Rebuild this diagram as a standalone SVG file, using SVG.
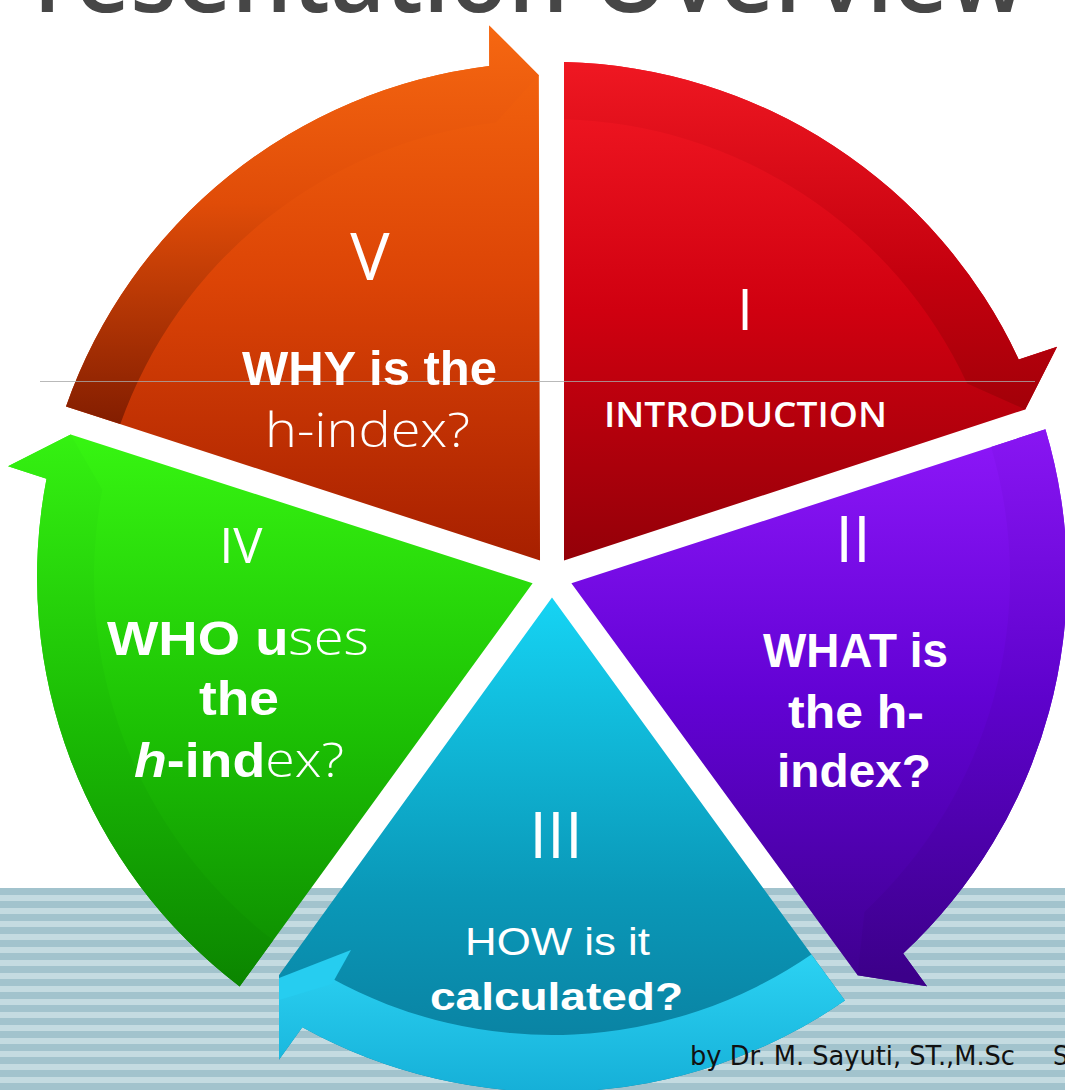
<svg xmlns="http://www.w3.org/2000/svg" width="1065" height="1090" viewBox="0 0 1065 1090">
<style>
.w{fill:#ffffff;font-family:"Liberation Sans",Arial,sans-serif}
.b{font-weight:bold}
.lt{font-family:"Open Sans","Liberation Sans",sans-serif;font-weight:300}
.num{font-family:"Open Sans","Liberation Sans",sans-serif;font-weight:400;text-anchor:middle}
.title{fill:#464646;font-family:"Open Sans","Liberation Sans",sans-serif;font-size:100px;font-weight:600}
.foot{fill:#111111;font-family:"DejaVu Sans Condensed","DejaVu Sans","Liberation Sans",sans-serif;font-size:27px}
</style>
<defs>
<pattern id="stripes" x="0" y="888" width="20" height="13" patternUnits="userSpaceOnUse">
<rect width="20" height="13" fill="#c4dbe1"/>
<rect width="20" height="7" fill="#a2c3cd"/>
</pattern>
<linearGradient id="gI" gradientUnits="userSpaceOnUse" x1="0" y1="60" x2="0" y2="560">
<stop offset="0" stop-color="#f51a24"/><stop offset="0.5" stop-color="#d00010"/><stop offset="1" stop-color="#940008"/>
</linearGradient>
<linearGradient id="gIb" gradientUnits="userSpaceOnUse" x1="0" y1="60" x2="0" y2="420">
<stop offset="0" stop-color="#f01822"/><stop offset="0.6" stop-color="#c4000e"/><stop offset="1" stop-color="#a00008"/>
</linearGradient>
<linearGradient id="gII" gradientUnits="userSpaceOnUse" x1="0" y1="420" x2="0" y2="975" gradientTransform="rotate(-72 552 577)">
<stop offset="0" stop-color="#8f18fa"/><stop offset="0.5" stop-color="#6202d4"/><stop offset="1" stop-color="#3f0090"/>
</linearGradient>
<linearGradient id="gIIb" gradientUnits="userSpaceOnUse" x1="0" y1="420" x2="0" y2="975" gradientTransform="rotate(-72 552 577)">
<stop offset="0" stop-color="#8a16f4"/><stop offset="0.5" stop-color="#5e02cc"/><stop offset="1" stop-color="#3c008a"/>
</linearGradient>
<linearGradient id="gIII" gradientUnits="userSpaceOnUse" x1="0" y1="597" x2="0" y2="1090" gradientTransform="rotate(-144 552 577)">
<stop offset="0" stop-color="#16d4f4"/><stop offset="0.6" stop-color="#0a98b8"/><stop offset="1" stop-color="#0a7c9c"/>
</linearGradient>
<linearGradient id="gIIIb" gradientUnits="userSpaceOnUse" x1="0" y1="940" x2="0" y2="1090" gradientTransform="rotate(-144 552 577)">
<stop offset="0" stop-color="#2ed6f6"/><stop offset="1" stop-color="#16b0d8"/>
</linearGradient>
<linearGradient id="gIV" gradientUnits="userSpaceOnUse" x1="0" y1="420" x2="0" y2="990" gradientTransform="rotate(-216 552 577)">
<stop offset="0" stop-color="#38f812"/><stop offset="0.55" stop-color="#1cc004"/><stop offset="1" stop-color="#0c8800"/>
</linearGradient>
<linearGradient id="gIVb" gradientUnits="userSpaceOnUse" x1="0" y1="420" x2="0" y2="990" gradientTransform="rotate(-216 552 577)">
<stop offset="0" stop-color="#36f412"/><stop offset="0.55" stop-color="#1aba04"/><stop offset="1" stop-color="#0b8400"/>
</linearGradient>
<linearGradient id="gV" gradientUnits="userSpaceOnUse" x1="0" y1="10" x2="0" y2="555" gradientTransform="rotate(-288 552 577)">
<stop offset="0" stop-color="#f86a10"/><stop offset="0.5" stop-color="#dc4406"/><stop offset="1" stop-color="#a82000"/>
</linearGradient>
<linearGradient id="gVb" gradientUnits="userSpaceOnUse" x1="0" y1="10" x2="0" y2="440" gradientTransform="rotate(-288 552 577)">
<stop offset="0" stop-color="#f86a12"/><stop offset="0.45" stop-color="#e04c08"/><stop offset="1" stop-color="#7c1a00"/>
</linearGradient>
<path id="wedge" d="M564 560.5 L564 62.1 A515 515 0 0 1 1018.7 359.4 L1057.1 346.8 L1025.2 409.4 Z"/>
<path id="band" d="M564 62.1 A515 515 0 0 1 1018.7 359.4 L1057.1 346.8 L1025.2 409.4 L967.1 383.4 A458 458 0 0 0 564 119.2 Z"/>
<clipPath id="clipIII"><path d="M0 0 H1065 V1090 H279 V948 H0 Z"/></clipPath>
</defs>

<rect width="1065" height="1090" fill="#ffffff"/>
<rect x="0" y="888" width="1065" height="202" fill="url(#stripes)"/>

<text class="title" x="34" y="12" textLength="992" lengthAdjust="spacingAndGlyphs">resentation Overview</text>

<g id="node-V">
<use href="#wedge" transform="rotate(288 552 577)" fill="url(#gV)"/>
<use href="#band" transform="rotate(288 552 577)" fill="url(#gVb)"/>
</g>
<g id="node-I">
<use href="#wedge" fill="url(#gI)"/>
<use href="#band" fill="url(#gIb)"/>
</g>
<g id="node-II">
<use href="#wedge" transform="rotate(72 552 577)" fill="url(#gII)"/>
<use href="#band" transform="rotate(72 552 577)" fill="url(#gIIb)"/>
</g>
<g id="node-IV">
<use href="#wedge" transform="rotate(216 552 577)" fill="url(#gIV)"/>
<use href="#band" transform="rotate(216 552 577)" fill="url(#gIVb)"/>
</g>
<g id="node-III" clip-path="url(#clipIII)">
<use href="#wedge" transform="rotate(144 552 577)" fill="url(#gIII)"/>
<use href="#band" transform="rotate(144 552 577)" fill="url(#gIIIb)"/>
<path d="M351 950 L279 978 L279 1000 L332 984 Z" fill="#26cdf0"/>
</g>

<line x1="40" y1="381.5" x2="1035" y2="381.5" stroke="#a8a8a8" stroke-width="1" opacity="0.8"/>

<g id="text-V">
<text class="w num" x="370" y="280" font-size="66">V</text>
<text class="w b" x="242" y="385" font-size="48" textLength="255" lengthAdjust="spacingAndGlyphs">WHY is the</text>
<text class="w lt" x="265" y="447" font-size="48" textLength="205" lengthAdjust="spacingAndGlyphs">h-index?</text>
</g>
<g id="text-I">
<text class="w num" x="745" y="330" font-size="56">I</text>
<text class="w" x="604" y="427" font-size="34" textLength="283" lengthAdjust="spacingAndGlyphs" style="font-family:'Open Sans','Liberation Sans',sans-serif;font-weight:600">INTRODUCTION</text>
</g>
<g id="text-II">
<text class="w num" x="853" y="562" font-size="64">II</text>
<text class="w b" x="763" y="667" font-size="48" textLength="185" lengthAdjust="spacingAndGlyphs">WHAT is</text>
<text class="w b" x="788" y="728" font-size="46" textLength="136" lengthAdjust="spacingAndGlyphs">the h-</text>
<text class="w b" x="777" y="787" font-size="46" textLength="154" lengthAdjust="spacingAndGlyphs">index?</text>
</g>
<g id="text-III">
<text class="w num" x="556" y="858" font-size="64">III</text>
<text class="w" x="465" y="955" font-size="38" textLength="185" lengthAdjust="spacingAndGlyphs">HOW is it</text>
<text class="w b" x="430" y="1010" font-size="38" textLength="253" lengthAdjust="spacingAndGlyphs">calculated?</text>
</g>
<g id="text-IV">
<text class="w num" x="241" y="563" font-size="49">IV</text>
<text class="w" x="107" y="655" font-size="48" textLength="262" lengthAdjust="spacingAndGlyphs"><tspan font-weight="bold">WHO u</tspan><tspan class="lt">ses</tspan></text>
<text class="w b" x="199" y="715" font-size="48" textLength="80" lengthAdjust="spacingAndGlyphs">the</text>
<text class="w" x="134" y="777" font-size="48" textLength="210" lengthAdjust="spacingAndGlyphs"><tspan font-weight="bold" font-style="italic">h</tspan><tspan font-weight="bold">-ind</tspan><tspan class="lt">ex?</tspan></text>
</g>

<text class="foot" x="690" y="1065" textLength="325" lengthAdjust="spacingAndGlyphs">by Dr. M. Sayuti, ST.,M.Sc</text>
<text class="foot" x="1053" y="1065">S</text>
</svg>
